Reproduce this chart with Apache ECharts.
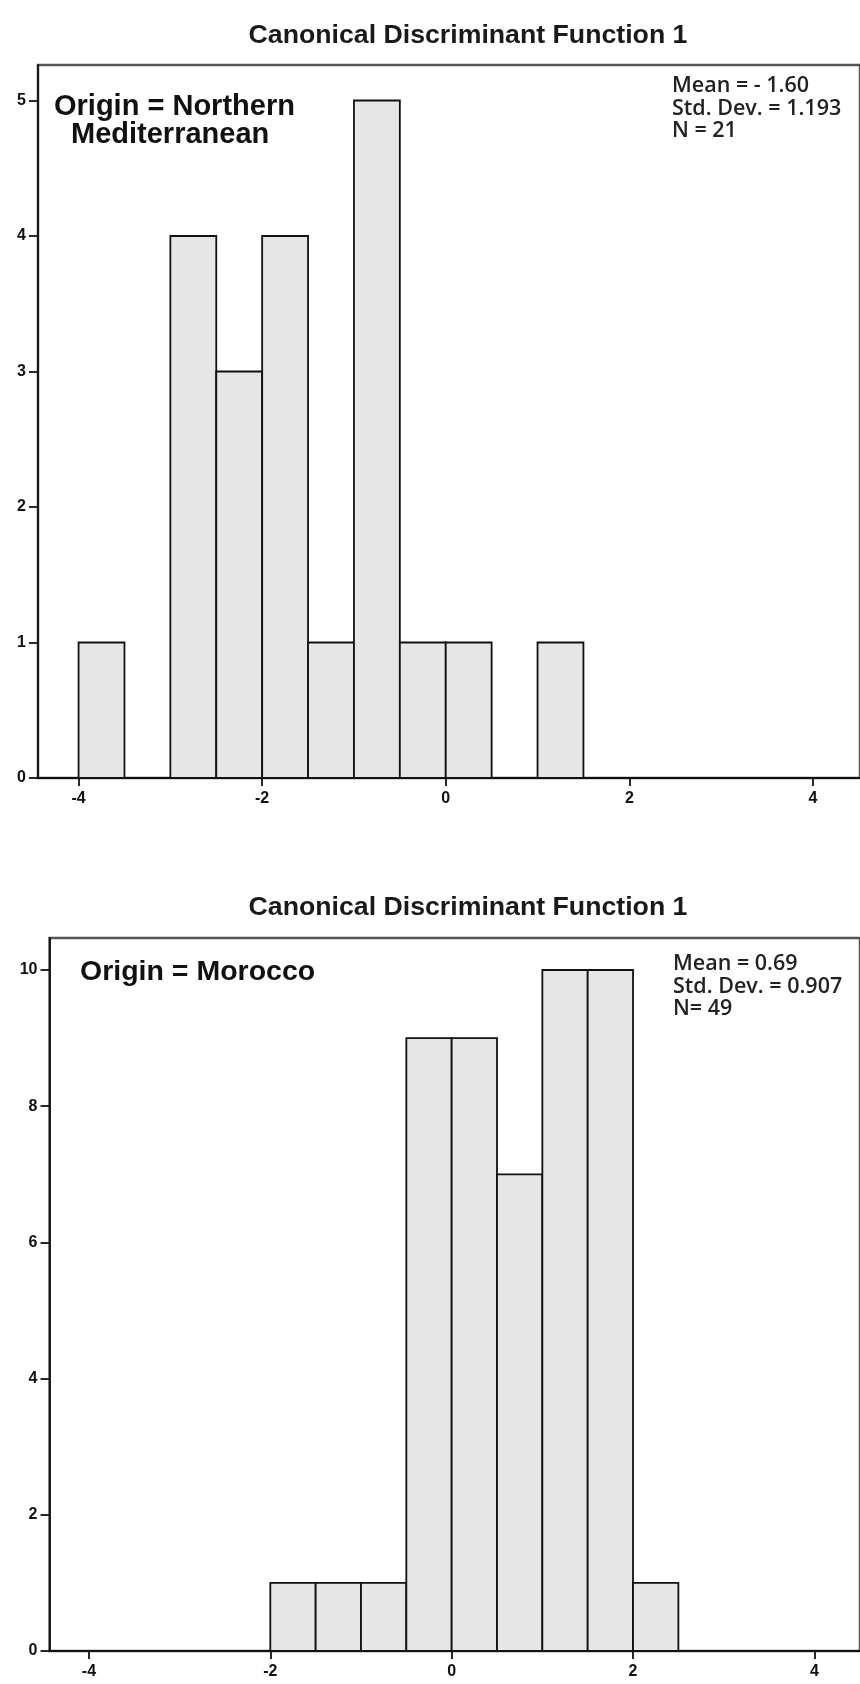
<!DOCTYPE html>
<html>
<head>
<meta charset="utf-8">
<script src="https://cdn.jsdelivr.net/npm/echarts@6/dist/echarts.min.js"></script>
<style>html,body{margin:0;padding:0;background:#fff}#c{width:860px;height:1684px}</style>
</head>
<body>
<div id="c"></div>
<script>
// ---- data ----
const binWidth = 0.5;
const binStartsNM = [-4, -3, -2.5, -2, -1.5, -1, -0.5, 0, 1];
const countsNM = [1, 4, 3, 4, 1, 5, 1, 1, 1];
const binStartsMO = [-2, -1.5, -1, -0.5, 0, 0.5, 1, 1.5, 2];
const countsMO = [1, 1, 1, 9, 9, 7, 10, 10, 1];
const xTicks = [-4, -2, 0, 2, 4];
const yTicksNM = [0, 1, 2, 3, 4, 5];
const yTicksMO = [0, 2, 4, 6, 8, 10];
const titleText = 'Canonical Discriminant Function 1';
const labelNM = ['Origin = Northern', 'Mediterranean'];
const labelMO = 'Origin = Morocco';
const statsNM = ['Mean = - 1.60', 'Std. Dev. = 1.193', 'N = 21'];
const statsMO = ['Mean = 0.69', 'Std. Dev. = 0.907', 'N= 49'];

const tickFont = { fontFamily: "'Liberation Sans Narrow','Liberation Sans',Arial,sans-serif", fontWeight: 'bold', fontSize: 16, color: '#111' };

function histData(starts, counts) {
  return starts.map((s, i) => [s, s + binWidth, counts[i]]);
}
function renderBin(params, api) {
  const p0 = api.coord([api.value(0), api.value(2)]);
  const p1 = api.coord([api.value(1), 0]);
  return {
    type: 'rect',
    shape: { x: p0[0], y: p0[1], width: p1[0] - p0[0], height: p1[1] - p0[1] },
    style: { fill: '#e6e6e6', stroke: '#111', lineWidth: 1.8 }
  };
}
function xAxisCfg(gi, min, max) {
  return {
    type: 'value', gridIndex: gi, min: min, max: max,
    splitLine: { show: false },
    axisLine: { show: true, onZero: false, lineStyle: { color: '#111', width: 2 } },
    axisTick: { show: true, length: 8, customValues: xTicks, lineStyle: { color: '#111', width: 1.8 } },
    axisLabel: Object.assign({ margin: 13, customValues: xTicks, formatter: v => String(v) }, tickFont)
  };
}
function yAxisCfg(gi, max, ticks) {
  return {
    type: 'value', gridIndex: gi, min: 0, max: max,
    splitLine: { show: false },
    axisLine: { show: true, onZero: false, lineStyle: { color: '#111', width: 1.8 } },
    axisTick: { show: true, length: 9, customValues: ticks, lineStyle: { color: '#111', width: 1.8 } },
    axisLabel: Object.assign({ margin: 12, customValues: ticks, formatter: v => String(v) }, tickFont)
  };
}

const chart = echarts.init(document.getElementById('c'), null, { renderer: 'canvas' });
const originFont = "'Liberation Sans',Arial,sans-serif";
const statFont = "'Open Sans','Noto Sans',sans-serif";

chart.setOption({
  backgroundColor: '#fff',
  animation: false,
  title: [
    { text: titleText, left: 463, top: 17, textAlign: 'center',
      textStyle: { fontFamily: originFont, fontWeight: 'bold', fontSize: 26.7, color: '#1a1a1a' } },
    { text: titleText, left: 463, top: 889, textAlign: 'center',
      textStyle: { fontFamily: originFont, fontWeight: 'bold', fontSize: 26.7, color: '#1a1a1a' } }
  ],
  grid: [
    { left: 38, top: 65, width: 832, height: 713, show: true, borderColor: '#555', borderWidth: 2.5, backgroundColor: 'transparent', containLabel: false },
    { left: 49.5, top: 938, width: 820.5, height: 713, show: true, borderColor: '#555', borderWidth: 2.5, backgroundColor: 'transparent', containLabel: false }
  ],
  xAxis: [ xAxisCfg(0, -4.442, 4.513), xAxisCfg(1, -4.435, 4.503) ],
  yAxis: [ yAxisCfg(0, 5.262, yTicksNM), yAxisCfg(1, 10.47, yTicksMO) ],
  series: [
    { type: 'custom', xAxisIndex: 0, yAxisIndex: 0, renderItem: renderBin, data: histData(binStartsNM, countsNM), z: 1 },
    { type: 'custom', xAxisIndex: 1, yAxisIndex: 1, renderItem: renderBin, data: histData(binStartsMO, countsMO), z: 1 }
  ],
  graphic: [
    { type: 'text', x: 54, y: 92, style: { text: labelNM[0], font: "bold 29px " + originFont, fill: '#111' } },
    { type: 'text', x: 71, y: 120, style: { text: labelNM[1], font: "bold 29px " + originFont, fill: '#111' } },
    { type: 'text', x: 80, y: 958, style: { text: labelMO, font: "bold 28.5px " + originFont, fill: '#111' } },
    { type: 'text', x: 672, y: 75, style: { text: statsNM.join('\n'), font: "600 21.5px " + statFont, fill: '#222', lineHeight: 22.5 } },
    { type: 'text', x: 673, y: 953, style: { text: statsMO.join('\n'), font: "600 21.5px " + statFont, fill: '#222', lineHeight: 22.5 } }
  ]
});
</script>
</body>
</html>
